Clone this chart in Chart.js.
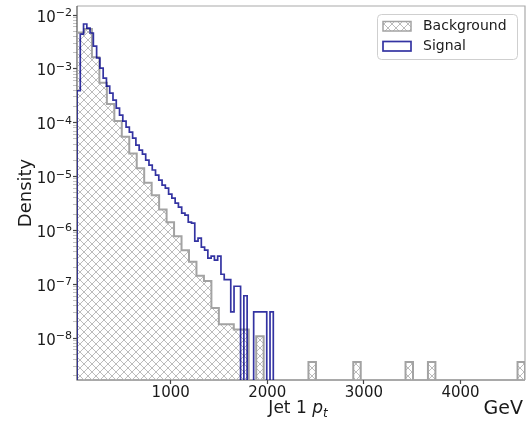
<!DOCTYPE html>
<html>
<head>
<meta charset="utf-8">
<script src="https://cdn.jsdelivr.net/npm/chart.js@4.4.1/dist/chart.umd.min.js"></script>
<style>
  html, body { margin: 0; padding: 0; background: #fff; }
  #wrap { width: 528px; height: 422px; }
</style>
</head>
<body>
<div id="wrap"><canvas id="chart1" width="528" height="422"></canvas></div>
<script>
// histogram binning (60 bins each, same start)
var binStart = 30;
var bgBinWidth = 77.3;
var sigBinWidth = 33.87;

// densities, one per bin
var bgDensity = [
  4.73e-3, 5.5e-3, 1.64e-3, 5.52e-4, 2.22e-4, 1.07e-4, 5.47e-5, 2.69e-5, 1.42e-5, 7.64e-6,
  4.51e-6, 2.43e-6, 1.42e-6, 7.80e-7, 4.28e-7, 2.60e-7, 1.44e-7, 1.15e-7, 3.6e-8, 1.8e-8,
  1.8e-8, 1.44e-8, 1.44e-8, 0, 1.08e-8, 0, 0, 0, 0, 0,
  0, 3.6e-9, 0, 0, 0, 0, 0, 3.6e-9, 0, 0,
  0, 0, 0, 0, 3.6e-9, 0, 0, 3.6e-9, 0, 0,
  0, 0, 0, 0, 0, 0, 0, 0, 0, 3.6e-9
];
var sigDensity = [
  3.92e-4, 4.43e-3, 6.8e-3, 5.73e-3, 4.63e-3, 2.65e-3, 1.59e-3, 1.03e-3, 6.75e-4, 4.79e-4,
  3.55e-4, 2.63e-4, 1.87e-4, 1.38e-4, 1.07e-4, 8.28e-5, 6.69e-5, 5.18e-5, 3.84e-5, 3.10e-5,
  2.61e-5, 2.02e-5, 1.63e-5, 1.32e-5, 1.06e-5, 8.57e-6, 6.92e-6, 6.08e-6, 4.71e-6, 3.97e-6,
  3.21e-6, 2.70e-6, 2.09e-6, 1.92e-6, 1.42e-6, 1.36e-6, 6.30e-7, 7.16e-7, 4.88e-7, 4.28e-7,
  3.04e-7, 3.31e-7, 2.79e-7, 3.31e-7, 1.53e-7, 1.22e-7, 1.22e-7, 3.05e-8, 9.15e-8, 9.15e-8,
  0, 6.1e-8, 0, 0, 3.05e-8, 3.05e-8, 3.05e-8, 3.05e-8, 0, 3.05e-8
];

var xTicks = [1000, 2000, 3000, 4000];
var yTicks = [1e-8, 1e-7, 1e-6, 1e-5, 1e-4, 1e-3, 1e-2];
var xMin = 30, xMax = 4668;
var yMin = 1.66e-9, yMax = 1.47e-2;

var bgColor = '#a3a3a3';
var sigColor = 'rgba(0,0,139,0.8)';
var floorVal = yMin / 1000;   // empty bins drop below the axis

// step outline: up from the floor, across each bin, back down at the end
function stepPoints(vals, start, width) {
  var pts = [{x: start, y: floorVal}];
  for (var i = 0; i < vals.length; i++) {
    pts.push({x: start + i * width, y: vals[i] > 0 ? vals[i] : floorVal});
  }
  pts.push({x: start + vals.length * width, y: floorVal});
  return pts;
}

var canvas = document.getElementById('chart1');
var mainCtx = canvas.getContext('2d');

function makeHatch(color) {
  var c = document.createElement('canvas');
  c.width = 8; c.height = 8;
  var g = c.getContext('2d');
  g.strokeStyle = color;
  g.lineWidth = 0.9;
  g.beginPath();
  g.moveTo(-1, 9); g.lineTo(9, -1);
  g.moveTo(-1, 1); g.lineTo(1, -1);
  g.moveTo(7, 9); g.lineTo(9, 7);
  g.moveTo(-1, -1); g.lineTo(9, 9);
  g.moveTo(-1, 7); g.lineTo(1, 9);
  g.moveTo(7, -1); g.lineTo(9, 1);
  g.stroke();
  return mainCtx.createPattern(c, 'repeat');
}
var hatch = makeHatch('#b4b4b4');

// major + minor ticks for the log axis
var yAllTicks = [];
[yTicks[0] / 10].concat(yTicks).forEach(function (m) {
  for (var s = 1; s <= 9; s++) {
    var v = m * s;
    if (v >= yMin && v <= yMax) yAllTicks.push({value: v, major: s === 1});
  }
});

var textColor = '#1a1a1a';
var fontFam = "'DejaVu Sans', sans-serif";
Chart.defaults.font.family = fontFam;
Chart.defaults.color = textColor;

var decor = {
  id: 'decor',
  beforeDatasetsDraw: function (chart) {
    var ctx = chart.ctx, a = chart.chartArea;
    ctx.save();
    ctx.lineWidth = 1.2;
    ctx.strokeStyle = '#aaaaaa';
    ctx.beginPath();
    ctx.moveTo(a.left, a.top); ctx.lineTo(a.right, a.top); ctx.lineTo(a.right, a.bottom);
    ctx.stroke();
    ctx.strokeStyle = '#555555';
    ctx.beginPath();
    ctx.moveTo(a.left, a.top); ctx.lineTo(a.left, a.bottom); ctx.lineTo(a.right, a.bottom);
    ctx.stroke();
    ctx.restore();
  },
  afterDraw: function (chart) {
    var ctx = chart.ctx, a = chart.chartArea;
    var ys = chart.scales.y;
    ctx.save();
    ctx.fillStyle = textColor;
    ctx.textBaseline = 'alphabetic';

    // y tick labels as 10 with a raised exponent
    yTicks.forEach(function (v) {
      var py = ys.getPixelForValue(v);
      var ex = '\u2212' + String(-Math.round(Math.log10(v)));
      ctx.font = '11px ' + fontFam;
      var we = ctx.measureText(ex).width;
      ctx.font = '15px ' + fontFam;
      var wb = ctx.measureText('10').width;
      var right = a.left - 5;
      ctx.fillText('10', right - we - wb, py + 6.5);
      ctx.font = '11px ' + fontFam;
      ctx.fillText(ex, right - we, py + 1);
    });

    // x label: Jet 1 p_t
    var base = 413;
    ctx.font = '17px ' + fontFam;
    var w1 = ctx.measureText('Jet 1 ').width;
    ctx.font = 'italic 17px ' + fontFam;
    var w2 = ctx.measureText('p').width;
    ctx.font = 'italic 12px ' + fontFam;
    var w3 = ctx.measureText('t').width;
    var x0 = (a.left + a.right) / 2 - 3 - (w1 + w2 + w3) / 2;
    ctx.font = '17px ' + fontFam;
    ctx.fillText('Jet 1 ', x0, base);
    ctx.font = 'italic 17px ' + fontFam;
    ctx.fillText('p', x0 + w1, base);
    ctx.font = 'italic 12px ' + fontFam;
    ctx.fillText('t', x0 + w1 + w2, base + 3.5);

    // unit
    ctx.font = '19px ' + fontFam;
    ctx.textAlign = 'right';
    ctx.fillText('GeV', 523, 414);
    ctx.textAlign = 'left';

    // legend
    var ds = chart.data.datasets;
    ctx.fillStyle = 'rgba(255,255,255,0.8)';
    ctx.strokeStyle = '#cfcfcf';
    ctx.lineWidth = 1;
    ctx.beginPath();
    ctx.roundRect(377.5, 14.5, 140, 45, 4);
    ctx.fill(); ctx.stroke();

    ctx.fillStyle = hatch;
    ctx.fillRect(383, 21.5, 28, 9.5);
    ctx.strokeStyle = bgColor; ctx.lineWidth = 1.5;
    ctx.strokeRect(383, 21.5, 28, 9.5);
    ctx.strokeStyle = sigColor; ctx.lineWidth = 1.7;
    ctx.strokeRect(383, 41.5, 28, 9.5);

    ctx.fillStyle = textColor;
    ctx.font = '14px ' + fontFam;
    ctx.textBaseline = 'middle';
    ctx.fillText(ds[1].label, 423, 26.5);
    ctx.fillText(ds[0].label, 423, 46.5);
    ctx.restore();
  }
};

new Chart(canvas, {
  type: 'line',
  data: {
    datasets: [{
      label: 'Signal',
      data: stepPoints(sigDensity, binStart, sigBinWidth),
      stepped: true,
      borderColor: sigColor,
      borderWidth: 1.7,
      pointRadius: 0,
      fill: false,
      clip: 0,
      order: 0
    }, {
      label: 'Background',
      data: stepPoints(bgDensity, binStart, bgBinWidth),
      stepped: true,
      borderColor: bgColor,
      borderWidth: 2,
      backgroundColor: hatch,
      pointRadius: 0,
      fill: 'start',
      clip: 0,
      order: 1
    }]
  },
  options: {
    responsive: false,
    animation: false,
    events: [],
    layout: { padding: { top: 6, right: 3, left: 0, bottom: 0 } },
    plugins: { legend: { display: false }, tooltip: { enabled: false } },
    scales: {
      x: {
        type: 'linear',
        min: xMin,
        max: xMax,
        border: { display: false },
        grid: { drawOnChartArea: false, tickLength: 4, tickColor: '#444', tickWidth: 1.2 },
        ticks: {
          autoSkip: false,
          maxRotation: 0,
          padding: 2,
          font: { size: 15, lineHeight: 1 },
          callback: function (v) { return String(v); }
        },
        afterBuildTicks: function (axis) {
          axis.ticks = xTicks.map(function (v) { return {value: v}; });
        },
        afterFit: function (axis) {
          axis.height = 42;
          axis.paddingLeft = 0; axis.paddingRight = 0;
        }
      },
      y: {
        type: 'logarithmic',
        min: yMin,
        max: yMax,
        border: { display: false },
        grid: {
          drawOnChartArea: false,
          tickLength: 4,
          tickColor: function (c) { return c.tick && c.tick.major ? '#444' : '#9a9a9a'; },
          tickWidth: function (c) { return c.tick && c.tick.major ? 1.2 : 0.6; }
        },
        ticks: {
          autoSkip: false,
          padding: 2,
          font: { size: 15 },
          callback: function () { return ''; }
        },
        title: { display: true, text: 'Density', font: { size: 18 }, padding: { top: 16 } },
        afterBuildTicks: function (axis) {
          axis.ticks = yAllTicks.map(function (t) { return {value: t.value, major: t.major}; });
        },
        afterFit: function (axis) {
          axis.width = 77;
          axis.paddingTop = 0; axis.paddingBottom = 0;
        }
      }
    }
  },
  plugins: [decor]
});
</script>
</body>
</html>
